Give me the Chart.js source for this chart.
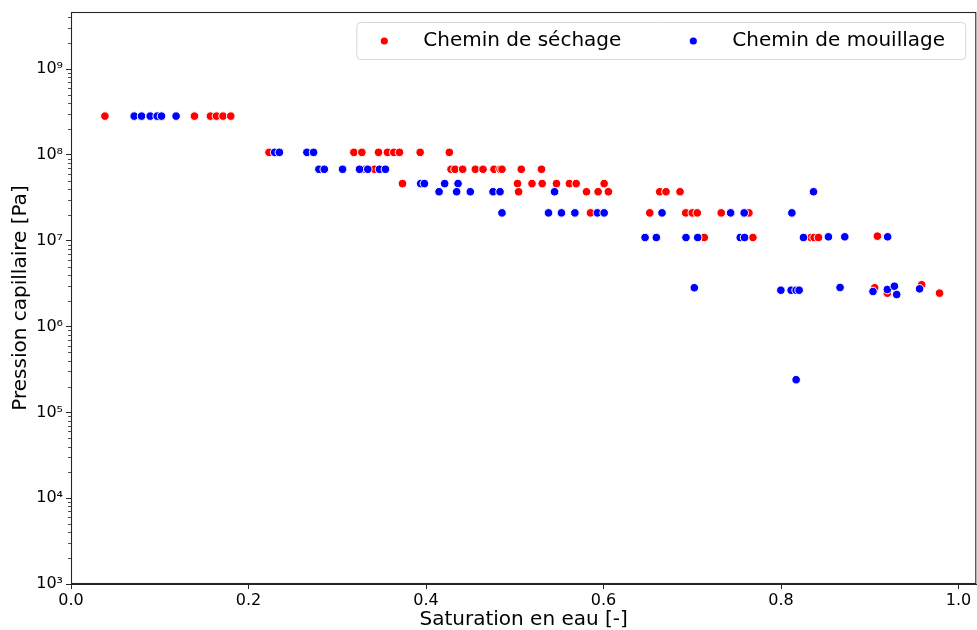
<!DOCTYPE html>
<html>
<head>
<meta charset="utf-8">
<script src="https://cdn.jsdelivr.net/npm/chart.js@4.4.1/dist/chart.umd.min.js"></script>
<style>
  html, body { margin: 0; padding: 0; background: #ffffff; }
  #wrap { width: 977px; height: 630px; position: relative; }
  canvas { display: block; }
</style>
</head>
<body>
<div id="wrap"><canvas id="c" width="977" height="630"></canvas></div>
<script>
// ---------- Data ----------
const seriesLabels = ['Chemin de séchage', 'Chemin de mouillage'];

const dryingSaturation = [
  0.0382, 0.1391, 0.1571, 0.1639, 0.1713, 0.1800,
  0.2231, 0.3187, 0.3277, 0.3465, 0.3566, 0.3637, 0.3701, 0.3934, 0.4263,
  0.3315, 0.3420, 0.4282, 0.4327, 0.4413, 0.4556, 0.4642, 0.4766, 0.4834, 0.4856, 0.5073, 0.5301,
  0.3735, 0.5031, 0.5194, 0.5309, 0.5470, 0.5616, 0.5692, 0.6007,
  0.5043, 0.5808, 0.5939, 0.6055, 0.6633, 0.6704, 0.6862,
  0.5853, 0.6521, 0.6926, 0.7000, 0.7056, 0.7326, 0.7638,
  0.7135, 0.7683, 0.8335, 0.8372, 0.8422, 0.9086,
  0.9055, 0.9198, 0.9584, 0.9786
];
const dryingPressure = [
  2.83e8, 2.83e8, 2.83e8, 2.83e8, 2.83e8, 2.83e8,
  1.07e8, 1.07e8, 1.07e8, 1.07e8, 1.07e8, 1.07e8, 1.07e8, 1.07e8, 1.07e8,
  6.8e7, 6.8e7, 6.8e7, 6.8e7, 6.8e7, 6.8e7, 6.8e7, 6.8e7, 6.8e7, 6.8e7, 6.8e7, 6.8e7,
  4.63e7, 4.63e7, 4.63e7, 4.63e7, 4.63e7, 4.63e7, 4.63e7, 4.63e7,
  3.72e7, 3.72e7, 3.72e7, 3.72e7, 3.72e7, 3.72e7, 3.72e7,
  2.11e7, 2.11e7, 2.11e7, 2.11e7, 2.11e7, 2.11e7, 2.11e7,
  1.09e7, 1.09e7, 1.09e7, 1.09e7, 1.09e7, 1.13e7,
  2.83e6, 2.45e6, 3.07e6, 2.45e6
];

const wettingSaturation = [
  0.0712, 0.0795, 0.0892, 0.0971, 0.1020, 0.1184,
  0.2295, 0.2348, 0.2658, 0.2733,
  0.2793, 0.2854, 0.3060, 0.3251, 0.3344, 0.3476, 0.3543,
  0.3940, 0.3982, 0.4210, 0.4361,
  0.4147, 0.4345, 0.4499, 0.4755, 0.4834, 0.5448, 0.8366,
  0.4856, 0.5380, 0.5526, 0.5677, 0.5931, 0.6007, 0.6659, 0.7432, 0.7585, 0.8122,
  0.6468, 0.6595, 0.6929, 0.7061, 0.7540, 0.7589, 0.8253, 0.8534, 0.8718, 0.9201,
  0.7023, 0.7998, 0.8114, 0.8170, 0.8204, 0.8665, 0.9036, 0.9198, 0.9277, 0.9303, 0.9561,
  0.8170
];
const wettingPressure = [
  2.83e8, 2.83e8, 2.83e8, 2.83e8, 2.83e8, 2.83e8,
  1.07e8, 1.07e8, 1.07e8, 1.07e8,
  6.8e7, 6.8e7, 6.8e7, 6.8e7, 6.8e7, 6.8e7, 6.8e7,
  4.63e7, 4.63e7, 4.63e7, 4.63e7,
  3.72e7, 3.72e7, 3.72e7, 3.72e7, 3.72e7, 3.72e7, 3.72e7,
  2.11e7, 2.11e7, 2.11e7, 2.11e7, 2.11e7, 2.11e7, 2.11e7, 2.11e7, 2.11e7, 2.11e7,
  1.09e7, 1.09e7, 1.09e7, 1.09e7, 1.09e7, 1.09e7, 1.09e7, 1.11e7, 1.11e7, 1.11e7,
  2.83e6, 2.65e6, 2.65e6, 2.65e6, 2.65e6, 2.85e6, 2.56e6, 2.70e6, 2.95e6, 2.36e6, 2.75e6,
  2.4e5
];

const xTickValues = [0.0, 0.2, 0.4, 0.6, 0.8, 1.0];
const xTickLabels = ['0.0', '0.2', '0.4', '0.6', '0.8', '1.0'];
const yTickValues = [1e3, 1e4, 1e5, 1e6, 1e7, 1e8, 1e9];
const yTickLabels = ['10³', '10⁴', '10⁵', '10⁶', '10⁷', '10⁸', '10⁹'];

const xTitle = 'Saturation en eau [-]';
const yTitle = 'Pression capillaire [Pa]';

// ---------- Build ----------
function toPoints(xs, ys) { return xs.map((x, i) => ({ x: x, y: ys[i] })); }

const FONT = "'DejaVu Sans', sans-serif";
const AXIS_COLOR = '#262626';

const framePlugin = {
  id: 'frameAndMinor',
  afterDraw(chart) {
    const ctx = chart.ctx;
    const a = chart.chartArea;
    const ys = chart.scales.y;
    ctx.save();
    // minor ticks on log axis
    ctx.strokeStyle = AXIS_COLOR;
    ctx.lineWidth = 0.8;
    for (let e = 3; e <= 9; e++) {
      for (let m = 2; m <= 9; m++) {
        const v = m * Math.pow(10, e);
        if (v > ys.max) continue;
        const py = Math.round(ys.getPixelForValue(v)) + 0.5;
        ctx.beginPath();
        ctx.moveTo(a.left - 3, py);
        ctx.lineTo(a.left, py);
        ctx.stroke();
      }
    }
    // frame
    ctx.lineWidth = 1.1;
    ctx.strokeStyle = AXIS_COLOR;
    ctx.strokeRect(a.left + 0.5, a.top + 0.5, a.right - a.left - 1, a.bottom - a.top - 1);
    // legend (inside the axes, upper right)
    const bx = a.right - 620, by = a.top + 10, bw = 609, bh = 37;
    ctx.beginPath();
    if (ctx.roundRect) ctx.roundRect(bx + 0.5, by + 0.5, bw, bh, 4); else ctx.rect(bx + 0.5, by + 0.5, bw, bh);
    ctx.fillStyle = 'rgba(255,255,255,0.85)';
    ctx.fill();
    ctx.strokeStyle = '#d6d6d6';
    ctx.lineWidth = 1;
    ctx.stroke();
    const items = chart.data.datasets;
    const offs = [0, 309];
    ctx.font = '20px ' + FONT;
    ctx.textBaseline = 'middle';
    ctx.textAlign = 'left';
    items.forEach((ds, i) => {
      const cx = bx + 28 + offs[i];
      const cy = by + 19;
      ctx.beginPath();
      ctx.arc(cx, cy, 3.6, 0, Math.PI * 2);
      ctx.fillStyle = ds.backgroundColor;
      ctx.fill();
      ctx.fillStyle = '#000000';
      ctx.fillText(ds.label, bx + 67 + offs[i], cy);
    });
    ctx.restore();
  }
};

new Chart(document.getElementById('c'), {
  type: 'scatter',
  data: {
    datasets: [
      {
        label: seriesLabels[0],
        data: toPoints(dryingSaturation, dryingPressure),
        backgroundColor: '#ff0000',
        borderColor: '#ffffff',
        borderWidth: 1,
        pointRadius: 4.3,
        pointHoverRadius: 4.3,
        order: 1
      },
      {
        label: seriesLabels[1],
        data: toPoints(wettingSaturation, wettingPressure),
        backgroundColor: '#0000ff',
        borderColor: '#ffffff',
        borderWidth: 1,
        pointRadius: 4.3,
        pointHoverRadius: 4.3,
        order: 0
      }
    ]
  },
  options: {
    responsive: false,
    animation: false,
    devicePixelRatio: 1,
    layout: { autoPadding: false, padding: { top: 12, right: 0.7, left: 0, bottom: 0 } },
    plugins: {
      legend: { display: false },
      tooltip: { enabled: false }
    },
    scales: {
      x: {
        type: 'linear',
        min: 0,
        max: 1.02,
        afterBuildTicks(scale) { scale.ticks = xTickValues.map(v => ({ value: v })); },
        afterFit(scale) { scale.height = 46; scale.paddingLeft = 0; scale.paddingRight = 0; },
        ticks: {
          autoSkip: false,
          maxRotation: 0,
          padding: 2,
          color: '#000000',
          font: { family: FONT, size: 16 },
          callback(value) {
            const i = xTickValues.findIndex(v => Math.abs(v - value) < 1e-9);
            return i >= 0 ? xTickLabels[i] : '';
          }
        },
        grid: { display: true, drawOnChartArea: false, drawTicks: true, tickLength: 5, tickColor: AXIS_COLOR, tickWidth: 1 },
        border: { display: true, color: AXIS_COLOR, width: 1 },
        title: { display: true, text: xTitle, color: '#000000', font: { family: FONT, size: 20, lineHeight: 1.0 }, padding: { top: 0, bottom: 0 } }
      },
      y: {
        type: 'logarithmic',
        min: 1e3,
        max: Math.pow(10, 9.665),
        afterBuildTicks(scale) { scale.ticks = yTickValues.map(v => ({ value: v })); },
        afterFit(scale) { scale.width = 71; scale.paddingTop = 0; scale.paddingBottom = 0; },
        ticks: {
          autoSkip: false,
          padding: 3,
          color: '#000000',
          font: { family: FONT, size: 16 },
          callback(value) {
            const i = yTickValues.findIndex(v => Math.abs(v - value) / v < 1e-6);
            return i >= 0 ? yTickLabels[i] : '';
          }
        },
        grid: { display: true, drawOnChartArea: false, drawTicks: true, tickLength: 5, tickColor: AXIS_COLOR, tickWidth: 1 },
        border: { display: true, color: AXIS_COLOR, width: 1 },
        title: { display: true, text: yTitle, color: '#000000', font: { family: FONT, size: 20 }, padding: { top: 9, bottom: 0 } }
      }
    }
  },
  plugins: [framePlugin]
});
</script>
</body>
</html>
